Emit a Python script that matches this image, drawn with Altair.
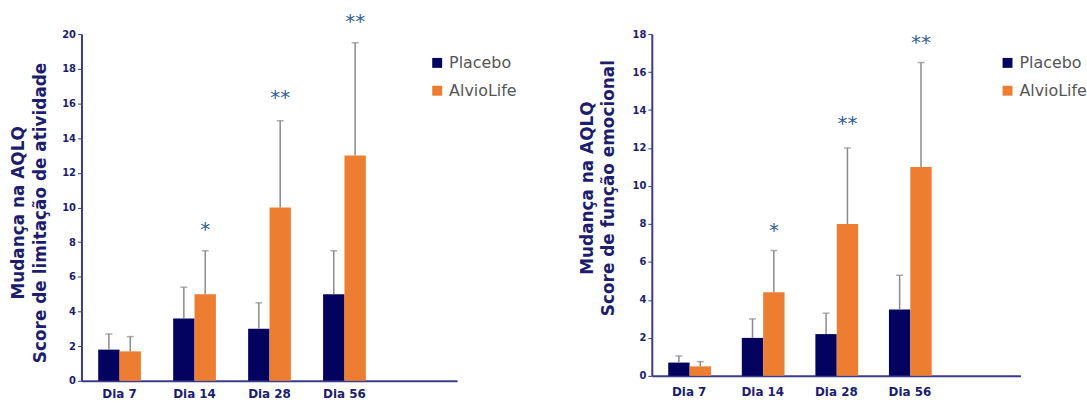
import altair as alt
import pandas as pd

# Visits and treatment groups
dias = ["Dia 7", "Dia 14", "Dia 28", "Dia 56"]
grupos = ["Placebo", "AlvioLife"]
cores = ["#03035f", "#ed7d31"]

# Activity limitation score: means and upper error limits
ativ_titulo = ["Mudança na AQLQ", "Score de limitação de atividade"]
ativ_placebo = [1.8, 3.6, 3.0, 5.0]
ativ_placebo_sup = [2.7, 5.4, 4.5, 7.5]
ativ_alvio = [1.7, 5.0, 10.0, 13.0]
ativ_alvio_sup = [2.55, 7.5, 15.0, 19.5]
ativ_sig = ["", "*", "**", "**"]
ativ_sig_y = [0, 9.0, 16.6, 21.0]

# Emotional function score: means and upper error limits
emoc_titulo = ["Mudança na AQLQ", "Score de função emocional"]
emoc_placebo = [0.7, 2.0, 2.2, 3.5]
emoc_placebo_sup = [1.05, 3.0, 3.3, 5.3]
emoc_alvio = [0.5, 4.4, 8.0, 11.0]
emoc_alvio_sup = [0.75, 6.6, 12.0, 16.5]
emoc_sig = ["", "*", "**", "**"]
emoc_sig_y = [0, 7.9, 13.5, 17.8]

NAVY = "#1d1d6e"
AXIS = "#3b3b8c"
FONT = "DejaVu Sans"


def painel(titulo, placebo, placebo_sup, alvio, alvio_sup, sig, sig_y, ymax,
           largura, altura, titulo_x, titulo_y, pad_x):
    linhas = []
    for i, d in enumerate(dias):
        linhas.append({"dia": d, "grupo": "Placebo", "valor": placebo[i], "sup": placebo_sup[i]})
        linhas.append({"dia": d, "grupo": "AlvioLife", "valor": alvio[i], "sup": alvio_sup[i]})
    df = pd.DataFrame(linhas)
    df_sig = pd.DataFrame({"dia": dias, "sig": sig, "y": sig_y, "grupo": ["AlvioLife"] * 4})
    df_sig = df_sig[df_sig["sig"] != ""]

    xs = alt.Scale(domain=dias, paddingInner=0.43, paddingOuter=0.72, align=0.155)
    x = alt.X("dia:N", scale=xs, sort=dias, title=None,
              axis=alt.Axis(labelAngle=0, labelFont=FONT, labelFontWeight="bold",
                            labelFontSize=12, labelColor=NAVY, labelPadding=pad_x,
                            ticks=False, domainColor=AXIS, domainWidth=2))
    xo = alt.XOffset("grupo:N", sort=grupos, scale=alt.Scale(domain=grupos))
    ys = alt.Scale(domain=[0, ymax], nice=False)
    yaxis = alt.Axis(values=list(range(0, ymax + 1, 2)), grid=False,
                     labelOverlap=False,
                     labelFont=FONT, labelFontWeight="bold", labelFontSize=10,
                     labelColor=NAVY, tickColor=AXIS, tickSize=4,
                     domainColor=AXIS, domainWidth=2)

    def y(campo):
        return alt.Y(campo, scale=ys, title=None, axis=yaxis)

    barras = alt.Chart(df).mark_bar().encode(
        x=x,
        xOffset=xo,
        y=y("valor:Q"),
        color=alt.Color("grupo:N", sort=grupos,
                        scale=alt.Scale(domain=grupos, range=cores),
                        legend=alt.Legend(title=None, orient="none", legendX=350,
                                          legendY=21, symbolType="square",
                                          symbolSize=100, symbolStrokeWidth=0,
                                          labelFont=FONT, labelFontSize=16,
                                          labelColor="#555555", rowPadding=12,
                                          labelOffset=4, padding=0)),
    )

    erro = alt.Chart(df).mark_rule(color="#8a8a8a", strokeWidth=1.5).encode(
        x=x, xOffset=xo, y=y("valor:Q"), y2="sup:Q"
    )
    cap = alt.Chart(df).mark_tick(color="#8a8a8a", thickness=1.5, size=7,
                                  orient="horizontal").encode(
        x=x, xOffset=xo, y=y("sup:Q")
    )
    estrelas = alt.Chart(df_sig).mark_text(
        font=FONT, fontSize=20, color="#2e5f96", baseline="middle", dy=5
    ).encode(x=x, xOffset=xo, y=y("y:Q"), text="sig:N")

    # Two-line vertical title beside the y axis
    t1 = alt.Chart(pd.DataFrame({"t": [titulo[0]]})).mark_text(
        font=FONT, fontWeight="bold", fontSize=17, color=NAVY, angle=270,
        align="center", baseline="middle"
    ).encode(x=alt.value(titulo_x[0]), y=alt.value(titulo_y), text="t:N")
    t2 = alt.Chart(pd.DataFrame({"t": [titulo[1]]})).mark_text(
        font=FONT, fontWeight="bold", fontSize=17, color=NAVY, angle=270,
        align="center", baseline="middle"
    ).encode(x=alt.value(titulo_x[1]), y=alt.value(titulo_y), text="t:N")

    return alt.layer(barras, erro, cap, estrelas, t1, t2).properties(
        width=largura, height=altura)


esq = painel(ativ_titulo, ativ_placebo, ativ_placebo_sup, ativ_alvio, ativ_alvio_sup,
             ativ_sig, ativ_sig_y, 20, 378, 349, (-63, -41), 180, 8)
dir_ = painel(emoc_titulo, emoc_placebo, emoc_placebo_sup, emoc_alvio, emoc_alvio_sup,
              emoc_sig, emoc_sig_y, 18, 371, 344, (-64, -43), 155, 11)

chart = alt.hconcat(esq, dir_, spacing=63).resolve_scale(
    color="independent", y="independent", x="independent"
).configure(
    padding={"left": 10, "top": 10, "right": 0, "bottom": 0}
).configure_view(stroke=None)

chart.save("out.html", embed_options={"renderer": "svg", "actions": False})
